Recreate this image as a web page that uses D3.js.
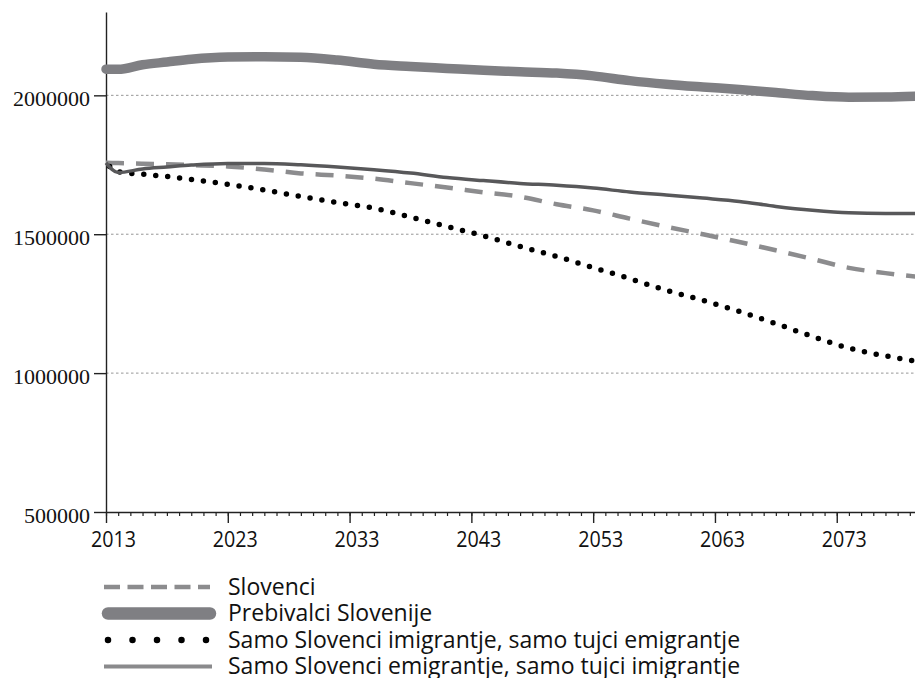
<!DOCTYPE html>
<html>
<head>
<meta charset="utf-8">
<script src="https://cdn.jsdelivr.net/npm/d3@7"></script>
<style>
  html, body { margin: 0; padding: 0; background: #fff; }
  svg { display: block; }
</style>
</head>
<body>
<svg id="chart" width="915" height="678"></svg>
<script>
// ---- DATA ----
const years = [2013, 2014, 2016, 2018, 2020, 2023, 2026, 2029, 2032, 2035, 2038, 2041, 2044,
  2047, 2050, 2053, 2056, 2059, 2062, 2065, 2068, 2071, 2074, 2077, 2080];

const slovenci = [1757000, 1756000, 1754000, 1752000, 1749000, 1744000, 1733000, 1719000, 1711000,
  1700000, 1684000, 1668000, 1651000, 1635000, 1608000, 1586000, 1556000, 1527000, 1500000,
  1472000, 1442000, 1411000, 1379000, 1360000, 1345000];

const prebivalci = [2094000, 2094000, 2110000, 2120000, 2130000, 2138000, 2139000, 2137000, 2127000,
  2112000, 2104000, 2097000, 2090000, 2085000, 2080000, 2070000, 2053000, 2040000, 2030000,
  2021000, 2010000, 1999000, 1993000, 1994000, 1998000];

const samoSlovImigr = [1757000, 1725000, 1716000, 1708000, 1697000, 1680000, 1659000, 1636000, 1614000,
  1594000, 1562000, 1528000, 1494000, 1456000, 1420000, 1380000, 1340000, 1298000, 1262000,
  1222000, 1178000, 1132000, 1090000, 1062000, 1040000];

const samoSlovEmigr = [1757000, 1722000, 1735000, 1742000, 1749000, 1755000, 1755000, 1750000, 1742000,
  1732000, 1720000, 1704000, 1693000, 1683000, 1676000, 1666000, 1652000, 1641000, 1630000,
  1618000, 1600000, 1586000, 1577000, 1575000, 1575000];

const yTicks = [500000, 1000000, 1500000, 2000000];
const gridTicks = [1000000, 1500000, 2000000];
const xTicks = [2013, 2023, 2033, 2043, 2053, 2063, 2073];

const legendLabels = [
  "Slovenci",
  "Prebivalci Slovenije",
  "Samo Slovenci imigrantje, samo tujci emigrantje",
  "Samo Slovenci emigrantje, samo tujci imigrantje"
];

// ---- CHART ----
const svg = d3.select("#chart");
const x = d3.scaleLinear().domain([2013, 2080]).range([106, 922]);
const y = d3.scaleLinear().domain([500000, 2300000]).range([512, 12]);

// gridlines
svg.append("g").selectAll("line").data(gridTicks).join("line")
  .attr("x1", x(2013)).attr("x2", 915)
  .attr("y1", d => y(d)).attr("y2", d => y(d))
  .attr("stroke", "#8a8a8a").attr("stroke-width", 0.9)
  .attr("stroke-dasharray", "2.5,2.5");

// y axis
const yAxis = d3.axisLeft(y).tickValues(yTicks).tickSize(12).tickSizeOuter(0).tickPadding(4)
  .tickFormat(d3.format("d"));
const gy = svg.append("g").attr("transform", `translate(${x(2013)},0)`).call(yAxis);
gy.select(".domain").attr("stroke", "#222").attr("stroke-width", 1.4);
gy.selectAll(".tick line").attr("stroke", "#222").attr("stroke-width", 1.4);
gy.selectAll(".tick text")
  .attr("font-family", "'Liberation Serif', 'Times New Roman', serif")
  .attr("font-size", 22).attr("fill", "#111")
  .attr("dy", "0.48em");

// x axis: minor ticks every year
const minorYears = d3.range(2013, 2081);
const xAxisMinor = d3.axisBottom(x).tickValues(minorYears).tickSize(4).tickFormat("").tickSizeOuter(0);
const gxm = svg.append("g").attr("transform", `translate(0,${y(500000)})`).call(xAxisMinor);
gxm.select(".domain").attr("stroke", "#222").attr("stroke-width", 1.4);
gxm.selectAll(".tick line").attr("stroke", "#222").attr("stroke-width", 1.2);

const xAxis = d3.axisBottom(x).tickValues(xTicks).tickSize(11).tickSizeOuter(0).tickPadding(8)
  .tickFormat(d3.format("d"));
const gx = svg.append("g").attr("transform", `translate(0,${y(500000)})`).call(xAxis);
gx.select(".domain").remove();
gx.selectAll(".tick line").attr("stroke", "#222").attr("stroke-width", 1.4);
gx.selectAll(".tick text")
  .attr("font-family", "'Open Sans', sans-serif")
  .attr("font-size", 22).attr("fill", "#111")
  .attr("dx", 7)
  .attr("textLength", 45).attr("lengthAdjust", "spacingAndGlyphs");

// lines
const line = d3.line().x(d => x(d[0])).y(d => y(d[1])).curve(d3.curveMonotoneX);
const zip = arr => years.map((yr, i) => [yr, arr[i]]);

const plot = svg.append("g");
plot.append("path").datum(zip(prebivalci)).attr("d", line)
  .attr("fill", "none").attr("stroke", "#7f7f83").attr("stroke-width", 9.5)
  .attr("stroke-linecap", "round");
plot.append("path").datum(zip(slovenci)).attr("d", line)
  .attr("fill", "none").attr("stroke", "#8c8c8e").attr("stroke-width", 4.5)
  .attr("stroke-dasharray", "18,12");
plot.append("path").datum(zip(samoSlovImigr)).attr("d", line)
  .attr("fill", "none").attr("stroke", "#000").attr("stroke-width", 5.5)
  .attr("stroke-linecap", "round").attr("stroke-dasharray", "0,12")
  .attr("stroke-dashoffset", -29);
plot.append("path").datum(zip(samoSlovEmigr)).attr("d", line)
  .attr("fill", "none").attr("stroke", "#58585a").attr("stroke-width", 3.5)
  .attr("stroke-linejoin", "round");

// legend
const legendY = [587, 613.5, 640, 666.5];
const lg = svg.append("g");
const lx1 = 104, lx2 = 210;
lg.append("line").attr("x1", lx1).attr("x2", lx2).attr("y1", legendY[0]).attr("y2", legendY[0])
  .attr("stroke", "#8c8c8e").attr("stroke-width", 4.5).attr("stroke-dasharray", "16,7.5");
lg.append("line").attr("x1", lx1 + 4).attr("x2", lx2).attr("y1", legendY[1]).attr("y2", legendY[1])
  .attr("stroke", "#7f7f83").attr("stroke-width", 12.5).attr("stroke-linecap", "round");
lg.append("line").attr("x1", 108).attr("x2", 206.5).attr("y1", legendY[2]).attr("y2", legendY[2])
  .attr("stroke", "#000").attr("stroke-width", 6.5).attr("stroke-linecap", "round")
  .attr("stroke-dasharray", "0,24.5");
lg.append("line").attr("x1", lx1).attr("x2", lx2 + 2).attr("y1", legendY[3]).attr("y2", legendY[3])
  .attr("stroke", "#8a8a8c").attr("stroke-width", 4);

lg.selectAll("text").data(legendLabels).join("text")
  .attr("x", 228).attr("y", (d, i) => legendY[i] + 7.5)
  .attr("font-family", "'Open Sans', sans-serif")
  .attr("font-size", 23).attr("fill", "#111")
  .text(d => d);
</script>
</body>
</html>
